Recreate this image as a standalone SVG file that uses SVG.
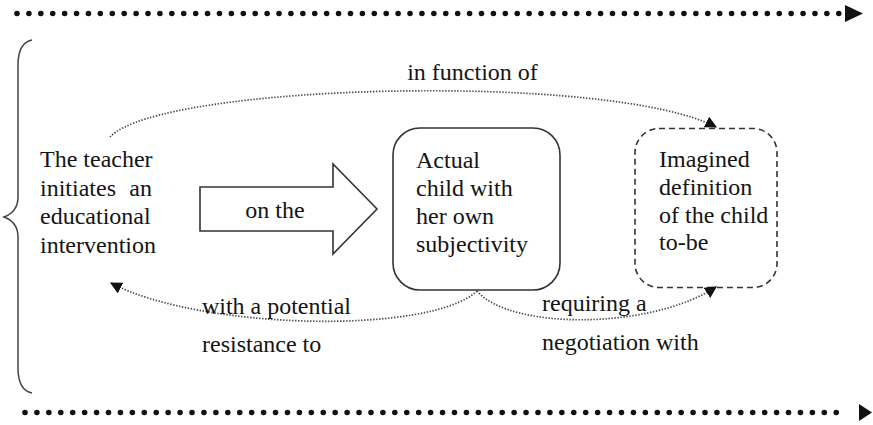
<svg xmlns="http://www.w3.org/2000/svg" width="873" height="425" viewBox="0 0 873 425">
  <style>
    text { font-family: 'Liberation Serif', 'DejaVu Serif', 'Times New Roman', serif; font-size: 24px; fill: #141414; }
    .box { fill: #ffffff; stroke: #333333; stroke-width: 1.6; }
    .dashed { fill: #ffffff; stroke: #333333; stroke-width: 1.6; stroke-dasharray: 6 4; }
    .link { fill: none; stroke: #4a4a4a; stroke-width: 1.7; stroke-dasharray: 1.4 1.6; }
    .timeline { stroke: #111111; stroke-width: 5.6; stroke-linecap: round; }
    .brace { fill: none; stroke: #444444; stroke-width: 1.5; }
  </style>
  <defs>
    <marker id="tip" viewBox="0 0 10 10" refX="9" refY="5" markerWidth="12" markerHeight="12" markerUnits="userSpaceOnUse" orient="auto">
      <path d="M0,0 L10,5 L0,10 z" fill="#111111"/>
    </marker>
  </defs>

  <!-- time lines above and below -->
  <g id="timeline-top">
    <line class="timeline" x1="17" y1="13.5" x2="839" y2="13.5" stroke-dasharray="0 11.91"/>
    <polygon points="845,5 863,13.5 845,22" fill="#111111"/>
  </g>
  <g id="timeline-bottom">
    <line class="timeline" x1="25" y1="412.5" x2="848" y2="412.5" stroke-dasharray="0 11.93"/>
    <polygon points="859,404 872,412.5 859,421" fill="#111111"/>
  </g>

  <!-- left curly brace -->
  <g id="brace">
    <path class="brace" d="M32,40 C22,42 18,50 18,65 L18,197 C18,208 12,214 4,217 C12,220 18,226 18,237 L18,368 C18,383 22,391 32,393"/>
  </g>

  <!-- teacher -->
  <g id="teacher">
    <text x="40" y="167">The teacher</text>
    <text x="40" y="195.5">initiates</text>
    <text x="152" y="195.5" text-anchor="end">an</text>
    <text x="40" y="224">educational</text>
    <text x="40" y="252.5">intervention</text>
  </g>

  <!-- block arrow "on the" -->
  <g id="on-the">
    <polygon class="box" stroke-width="1.3" points="200,187 333,187 333,164 377,209 333,254 333,231 200,231"/>
    <text x="275" y="218" text-anchor="middle">on the</text>
  </g>

  <!-- actual child -->
  <g id="actual-child">
    <rect class="box" x="393" y="128" width="167" height="162" rx="27"/>
    <text x="416" y="168">Actual</text>
    <text x="416" y="196">child with</text>
    <text x="416" y="224">her own</text>
    <text x="416" y="252">subjectivity</text>
  </g>

  <!-- imagined child -->
  <g id="imagined-child">
    <rect class="dashed" x="635" y="128.5" width="142" height="159" rx="24"/>
    <text x="659" y="167">Imagined</text>
    <text x="659" y="195">definition</text>
    <text x="659" y="223">of the child</text>
    <text x="659" y="250">to-be</text>
  </g>

  <!-- dotted relations -->
  <g id="connectors">
    <path class="link" d="M110,137 C160,83 610,72 716,127" marker-end="url(#tip)"/>
    <path class="link" d="M477,291 C430,335 200,330 111,283" marker-end="url(#tip)"/>
    <path class="link" d="M477,291 C510,330 650,330 716,287" marker-end="url(#tip)"/>
  </g>

  <!-- relation labels -->
  <g id="labels">
    <text x="472.5" y="80" text-anchor="middle">in function of</text>
    <text x="202" y="314" textLength="149" lengthAdjust="spacingAndGlyphs">with a potential</text>
    <text x="202" y="352">resistance to</text>
    <text x="542" y="311">requiring a</text>
    <text x="542" y="350">negotiation with</text>
  </g>
</svg>
